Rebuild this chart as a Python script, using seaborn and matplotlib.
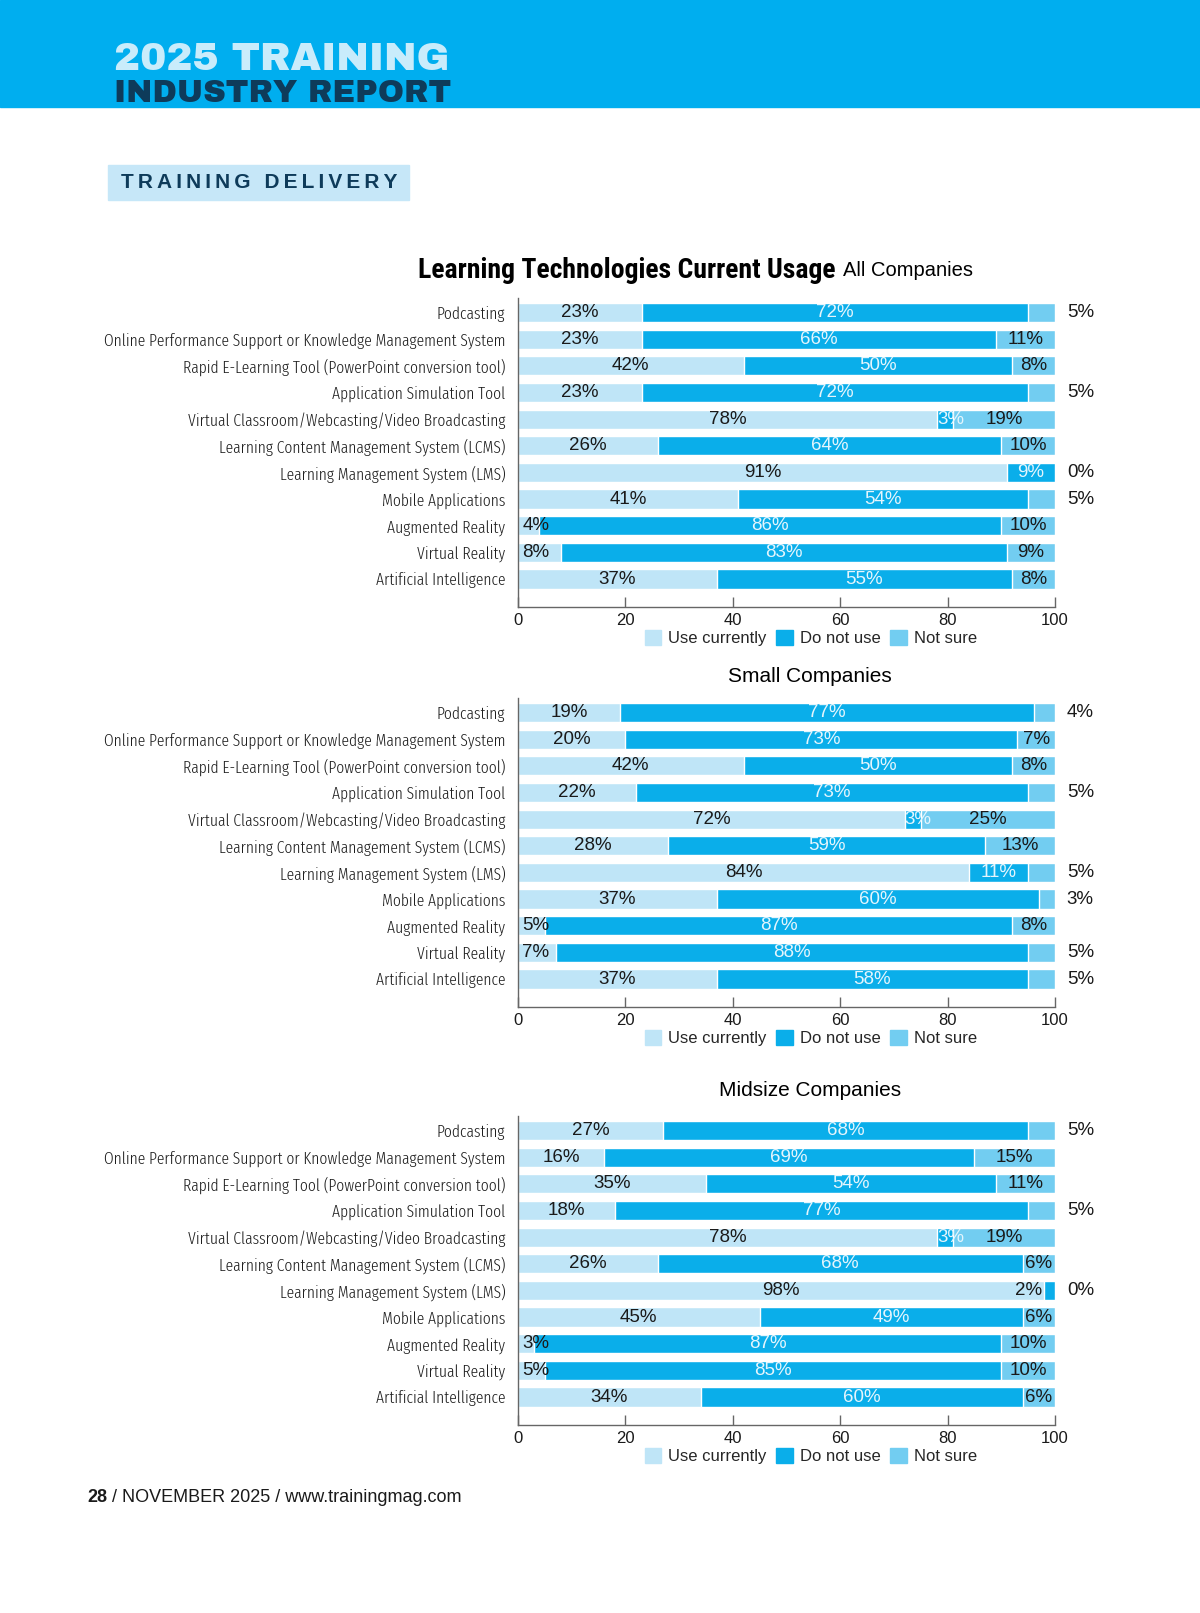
import matplotlib
matplotlib.use('Agg')
import matplotlib.pyplot as plt
import matplotlib.patches as mpatches
import pandas as pd
import seaborn as sns

#%% Data
techs = ['Podcasting',
         'Online Performance Support or Knowledge Management System',
         'Rapid E-Learning Tool (PowerPoint conversion tool)',
         'Application Simulation Tool',
         'Virtual Classroom/Webcasting/Video Broadcasting',
         'Learning Content Management System (LCMS)',
         'Learning Management System (LMS)',
         'Mobile Applications',
         'Augmented Reality',
         'Virtual Reality',
         'Artificial Intelligence']

all_use = [23, 23, 42, 23, 78, 26, 91, 41, 4, 8, 37]
all_dont = [72, 66, 50, 72, 3, 64, 9, 54, 86, 83, 55]
all_unsure = [5, 11, 8, 5, 19, 10, 0, 5, 10, 9, 8]

small_use = [19, 20, 42, 22, 72, 28, 84, 37, 5, 7, 37]
small_dont = [77, 73, 50, 73, 3, 59, 11, 60, 87, 88, 58]
small_unsure = [4, 7, 8, 5, 25, 13, 5, 3, 8, 5, 5]

mid_use = [27, 16, 35, 18, 78, 26, 98, 45, 3, 5, 34]
mid_dont = [68, 69, 54, 77, 3, 68, 2, 49, 87, 85, 60]
mid_unsure = [5, 15, 11, 5, 19, 6, 0, 6, 10, 10, 6]

x_ticks = [0, 20, 40, 60, 80, 100]
legend_labels = ['Use currently', 'Do not use', 'Not sure']

#%% Style
sns.set_theme(style='white')
plt.rcParams['font.family'] = ['Liberation Sans', 'DejaVu Sans']
LABEL = ['Fira Sans Extra Condensed', 'Roboto Condensed', 'Liberation Sans']
NARROW = ['Roboto Condensed', 'Liberation Sans']
HEAVY = ['Archivo Black', 'Roboto', 'Liberation Sans']

c_use = '#bfe5f7'
c_dont = '#0aaeea'
c_unsure = '#72cdf1'
c_head = '#00aeef'
c_navy = '#0e3b5a'
c_text = '#1a1a1a'
c_light = '#e4f5fd'

W, H = 1200, 1613
fig = plt.figure(figsize=(12, 16.13), dpi=100)

def fx(x):
    return x / W

def fy(y):
    return 1 - y / H

#%% Header
fig.add_artist(mpatches.Rectangle((0, fy(107)), 1, 107 / H, transform=fig.transFigure,
                                  color=c_head, zorder=0))
fig.text(fx(114), fy(70), '2025 TRAINING', family=HEAVY, weight='black', fontsize=28.3,
         color='#c9ecfb', va='baseline', ha='left')
fig.text(fx(114), fy(102), 'INDUSTRY REPORT', family=HEAVY, weight='black', fontsize=22.6,
         color=c_navy, va='baseline', ha='left')
fig.add_artist(mpatches.Rectangle((fx(108), fy(200)), fx(301), 35 / H, transform=fig.transFigure,
                                  color='#c6e7f8', zorder=0))
spaced = '\u2009 \u2009'.join('\u2009'.join(w) for w in ['TRAINING', 'DELIVERY'])
fig.text(fx(121), fy(183), spaced, weight='bold', fontsize=15,
         color=c_navy, va='center', ha='left')

# footer
fig.text(fx(87), fy(1497), '28', weight='bold', fontsize=13, color=c_text, va='center')
fig.text(fx(112), fy(1497), '/ NOVEMBER 2025 / www.trainingmag.com', fontsize=13,
         color=c_text, va='center')

#%% Charts
def stacked(top, use, dont, unsure):
    ax = fig.add_axes([fx(518), fy(top + 309), fx(537), 309 / H])
    df = pd.DataFrame({'tech': techs, 'use': use, 'dont': dont, 'unsure': unsure})
    df['use_dont'] = df['use'] + df['dont']
    df['total'] = df['use_dont'] + df['unsure']
    # stacked from the back: total -> use + dont -> use
    sns.barplot(data=df, x='total', y='tech', color=c_unsure, saturation=1, width=0.72,
                errorbar=None, ax=ax)
    sns.barplot(data=df, x='use_dont', y='tech', color=c_dont, saturation=1, width=0.72,
                errorbar=None, ax=ax)
    sns.barplot(data=df, x='use', y='tech', color=c_use, saturation=1, width=0.72,
                errorbar=None, ax=ax)

    fs = 13.5
    for i, r in df.iterrows():
        # use currently
        if r['use'] >= 10:
            ax.text(r['use'] / 2, i, '%d%%' % r['use'], ha='center', va='center', fontsize=fs, color=c_text)
        else:
            ax.text(0.8, i, '%d%%' % r['use'], ha='left', va='center', fontsize=fs, color=c_text)
        # do not use
        if r['dont'] >= 5:
            ax.text(r['use'] + r['dont'] / 2, i, '%d%%' % r['dont'], ha='center', va='center',
                    fontsize=fs, color=c_light)
        elif r['use'] > 90:
            ax.text(r['use'] - 0.4, i, '%d%%' % r['dont'], ha='right', va='center', fontsize=fs, color=c_text)
        else:
            ax.text(r['use'], i, '%d%%' % r['dont'], ha='left', va='center', fontsize=fs, color=c_light)
        # not sure
        if r['unsure'] > 5:
            ax.text(r['use_dont'] + r['unsure'] / 2, i, '%d%%' % r['unsure'], ha='center', va='center',
                    fontsize=fs, color=c_text)
        else:
            ax.text(102.2, i, '%d%%' % r['unsure'], ha='left', va='center', fontsize=fs, color=c_text)

    ax.set_xlim(0, 100)
    ax.set_ylim(11.05, -0.545)
    ax.set_xlabel('')
    ax.set_ylabel('')
    ax.set_xticks(x_ticks)
    ax.set_xticklabels([str(t) for t in x_ticks], fontsize=12, color=c_text)
    ax.tick_params(axis='x', direction='in', length=7, width=1, color='#666666', pad=4, bottom=True)
    ax.tick_params(axis='y', length=0, pad=9)
    for lab in ax.get_yticklabels():
        lab.set_family(LABEL)
        lab.set_fontweight(300)
        lab.set_fontsize(12.2)
        lab.set_color('#1e1e1e')
    sns.despine(ax=ax)
    for s in ['left', 'bottom']:
        ax.spines[s].set_color('#666666')
        ax.spines[s].set_linewidth(1)

    handles = [mpatches.Patch(color=c) for c in [c_use, c_dont, c_unsure]]
    ax.legend(handles, legend_labels, loc='center', bbox_to_anchor=(0.545, -0.1), ncol=3,
              frameon=False, fontsize=12, handlelength=1.0, handleheight=1.0,
              handletextpad=0.4, columnspacing=0.6)
    return ax

stacked(298, all_use, all_dont, all_unsure)
stacked(698, small_use, small_dont, small_unsure)
stacked(1116, mid_use, mid_dont, mid_unsure)

# titles
fig.text(fx(836), fy(270), 'Learning Technologies Current Usage', family=NARROW, weight='bold',
         fontsize=20, color='black', ha='right', va='center')
fig.text(fx(843), fy(271), 'All Companies', fontsize=14.5, color='black', ha='left', va='center')
fig.text(fx(810), fy(677), 'Small Companies', fontsize=15, color='black', ha='center', va='center')
fig.text(fx(810), fy(1091), 'Midsize Companies', fontsize=15, color='black', ha='center', va='center')

plt.savefig('out.png', dpi=100)
